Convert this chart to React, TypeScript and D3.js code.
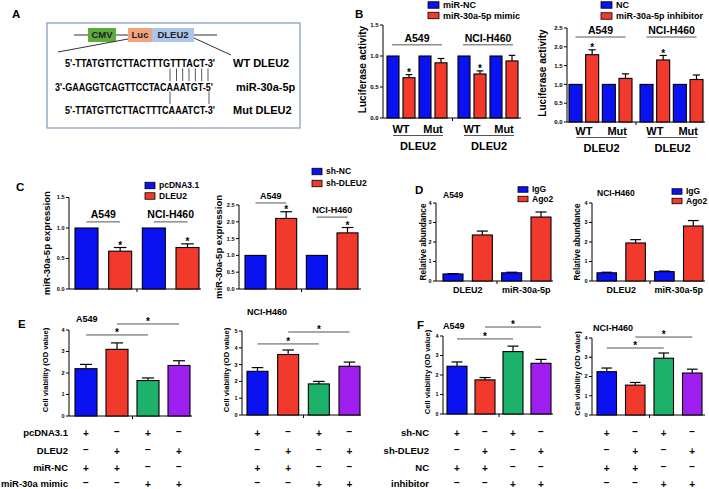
import React from "react";
import * as d3 from "d3";

const FONT = "Arial, 'Liberation Sans', Helvetica, sans-serif";
const BLUE = "#0b12f2";
const RED = "#f23a2c";
const GREEN = "#1db26a";
const PURPLE = "#9f1ff0";

// ---------------- data ----------------
const CELL_LINES = ["A549", "NCI-H460"];
const REPORTERS = ["WT", "Mut"];
const B_SLOTS = ["WT-ctrl", "WT-trt", "Mut-ctrl", "Mut-trt"];
const B_L_LEGEND = ["miR-NC", "miR-30a-5p mimic"];
const B_R_LEGEND = ["NC", "miR-30a-5p inhibitor"];
// order: A549 WT, A549 Mut, H460 WT, H460 Mut
const B_L_CTRL = [1, 1, 1, 1];
const B_L_TRT = [0.65, 0.89, 0.71, 0.92];
const B_L_TRT_ERR = [0.05, 0.07, 0.05, 0.09];
const B_L_STAR = [true, false, true, false];
const B_R_CTRL = [1, 1, 1, 1];
const B_R_TRT = [1.79, 1.16, 1.65, 1.13];
const B_R_TRT_ERR = [0.13, 0.12, 0.12, 0.12];
const B_R_STAR = [true, false, true, false];
const B_L_TICKS = [0, 0.5, 1.0, 1.5];
const B_R_TICKS = [0, 0.5, 1.0, 1.5, 2.0, 2.5];

const C_L_LEGEND = ["pcDNA3.1", "DLEU2"];
const C_R_LEGEND = ["sh-NC", "sh-DLEU2"];
const C_SLOTS = ["A549-ctrl", "A549-trt", "H460-ctrl", "H460-trt"];
const C_L_VALUES = [1, 0.62, 1, 0.68];
const C_L_ERR = [0, 0.06, 0, 0.06];
const C_R_VALUES = [1, 2.1, 1, 1.67];
const C_R_ERR = [0, 0.2, 0, 0.16];
const C_STAR = [false, true, false, true];
const C_L_TICKS = [0, 0.5, 1.0, 1.5];
const C_R_TICKS = [0, 0.5, 1.0, 1.5, 2.0, 2.5];

const D_LEGEND = ["IgG", "Ago2"];
const D_TARGETS = ["DLEU2", "miR-30a-5p"];
const D_SLOTS = ["DLEU2-IgG", "DLEU2-Ago2", "miR-IgG", "miR-Ago2"];
const D_L_VALUES = [0.36, 2.36, 0.42, 3.28];
const D_L_ERR = [0.02, 0.2, 0.03, 0.26];
const D_R_VALUES = [0.42, 1.95, 0.48, 2.82];
const D_R_ERR = [0.03, 0.17, 0.03, 0.28];
const D_TICKS = [0, 1, 2, 3, 4];

const GROUPS4 = ["g1", "g2", "g3", "g4"];
const E_ROWS = ["pcDNA3.1", "DLEU2", "miR-NC", "miR-30a mimic"];
const F_ROWS = ["sh-NC", "sh-DLEU2", "NC", "inhibitor"];
const SIGNS = [
  ["+", "−", "+", "−"],
  ["−", "+", "−", "+"],
  ["+", "+", "−", "−"],
  ["−", "−", "+", "+"],
];
const E_L_VALUES = [2.2, 3.1, 1.65, 2.35];
const E_L_ERR = [0.2, 0.3, 0.12, 0.22];
const E_R_VALUES = [2.6, 3.6, 1.85, 2.9];
const E_R_ERR = [0.22, 0.27, 0.15, 0.25];
const F_L_VALUES = [2.45, 1.75, 3.2, 2.6];
const F_L_ERR = [0.22, 0.12, 0.28, 0.2];
const F_R_VALUES = [2.25, 1.55, 2.95, 2.18];
const F_R_ERR = [0.19, 0.14, 0.27, 0.2];
const E_L_TICKS = [0, 1, 2, 3, 4];
const E_R_TICKS = [0, 1, 2, 3, 4, 5];
const F_TICKS = [0, 1, 2, 3, 4];
const FOUR_COLORS = [BLUE, RED, GREEN, PURPLE];
// significance brackets: [from bar, to bar, level (data units)]
const E_L_BRACKETS: [number, number, number][] = [[0, 2, 3.77], [1, 3, 4.28]];
const E_R_BRACKETS: [number, number, number][] = [[0, 2, 4.23], [1, 3, 4.94]];
const F_L_BRACKETS: [number, number, number][] = [[0, 2, 3.85], [1, 3, 4.46]];
const F_R_BRACKETS: [number, number, number][] = [[0, 2, 3.48], [1, 3, 4.05]];

// ---------------- helpers ----------------
type Bar = { x: number; w: number; v: number; e: number; fill: string; star?: boolean };
type Lin = d3.ScaleLinear<number, number>;

function bandFor(domain: string[], b0: number, b1: number, bw: number) {
  const n = domain.length;
  const step = (b1 - b0 - bw) / (n - 1);
  return d3
    .scaleBand<string>()
    .domain(domain)
    .range([b0, b1])
    .paddingInner(1 - bw / step)
    .paddingOuter(0);
}

function Bars({ bars, y }: { bars: Bar[]; y: Lin }) {
  return (
    <g>
      {bars.map((b, i) => {
        const top = y(b.v);
        const base = y(0);
        const et = y(b.v + b.e);
        const cx = b.x + b.w / 2;
        const cw = b.w * 0.55;
        return (
          <g key={i}>
            {b.e > 0 && <line x1={cx} x2={cx} y1={top} y2={et} stroke="#000" strokeWidth={1.2} />}
            {b.e > 0 && (
              <line x1={cx - cw / 2} x2={cx + cw / 2} y1={et} y2={et} stroke="#000" strokeWidth={1.2} />
            )}
            <rect x={b.x} y={top} width={b.w} height={base - top} fill={b.fill} stroke="#000" strokeWidth={1.1} />
            {b.star && (
              <text x={cx} y={et + 1.5} textAnchor="middle" fontSize={10}>
                *
              </text>
            )}
          </g>
        );
      })}
    </g>
  );
}

function Axis({
  x0, x1, y, ticks, fmt, fs, gap,
}: { x0: number; x1: number; y: Lin; ticks: number[]; fmt: (v: number) => string; fs: number; gap?: number }) {
  const y0 = y(0);
  return (
    <g>
      <line x1={x0} x2={x0} y1={y(ticks[ticks.length - 1])} y2={y0} stroke="#000" strokeWidth={1} />
      <line x1={x0} x2={x1} y1={y0} y2={y0} stroke="#000" strokeWidth={1} />
      {ticks.map((t) => (
        <g key={t}>
          <line x1={x0 - 3} x2={x0} y1={y(t)} y2={y(t)} stroke="#000" strokeWidth={1} />
          <text x={x0 - 4.5} y={y(t)} dy="0.35em" textAnchor="end" fontSize={fs}>
            {fmt(t)}
          </text>
        </g>
      ))}
      {gap != null && <line x1={gap} x2={gap} y1={y0} y2={y0 + 3} stroke="#000" strokeWidth={1} />}
    </g>
  );
}

function YLabel({ x, cy, text, fs }: { x: number; cy: number; text: string; fs: number }) {
  return (
    <text transform={`translate(${x},${cy}) rotate(-90)`} textAnchor="middle" dy="0.35em" fontSize={fs}>
      {text}
    </text>
  );
}

function Legend({
  x, ys, items, colors, w, h, fs,
}: { x: number; ys: number[]; items: string[]; colors: string[]; w: number; h: number; fs: number }) {
  return (
    <g>
      {items.map((it, i) => (
        <g key={it}>
          <rect x={x} y={ys[i] - h / 2} width={w} height={h} fill={colors[i]} stroke="#000" strokeWidth={0.8} />
          <text x={x + w + 4} y={ys[i]} dy="0.35em" fontSize={fs}>
            {it}
          </text>
        </g>
      ))}
    </g>
  );
}

function Brackets({ x, y, list }: { x: d3.ScaleBand<string>; y: Lin; list: [number, number, number][] }) {
  const c = (i: number) => (x(GROUPS4[i]) as number) + x.bandwidth() / 2;
  return (
    <g>
      {list.map(([a, b, lv], i) => {
        const yy = y(lv);
        return (
          <g key={i}>
            <line x1={c(a)} x2={c(b)} y1={yy} y2={yy} stroke="#555" strokeWidth={1} />
            <text x={(c(a) + c(b)) / 2} y={yy + 1} textAnchor="middle" fontSize={10}>
              *
            </text>
          </g>
        );
      })}
    </g>
  );
}

function SignTable({
  x, rows, labelX, ys,
}: { x: d3.ScaleBand<string>; rows?: string[]; labelX?: number; ys: number[] }) {
  return (
    <g>
      {SIGNS.map((row, r) => (
        <g key={r}>
          {rows && labelX != null && (
            <text x={labelX} y={ys[r]} dy="0.35em" textAnchor="end" fontSize={9.5}>
              {rows[r]}
            </text>
          )}
          {row.map((s, i) => (
            <text
              key={i}
              x={(x(GROUPS4[i]) as number) + x.bandwidth() / 2}
              y={ys[r]}
              dy={s === "+" ? "0.35em" : "0.2em"}
              textAnchor="middle"
              fontSize={10}
            >
              {s}
            </text>
          ))}
        </g>
      ))}
    </g>
  );
}

function fourBars(x: d3.ScaleBand<string>, slots: string[], vals: number[], errs: number[], colors: string[], stars?: boolean[]): Bar[] {
  return slots.map((s, i) => ({
    x: x(s) as number,
    w: x.bandwidth(),
    v: vals[i],
    e: errs[i],
    fill: colors[i],
    star: stars ? stars[i] : false,
  }));
}

function gapBetween(x: d3.ScaleBand<string>, slots: string[]) {
  return ((x(slots[1]) as number) + x.bandwidth() + (x(slots[2]) as number)) / 2;
}

// ---------------- panel B ----------------
function PanelB({
  ax0, ax1, y, b0, b1, gw, bw, ctrl, trt, err, stars, ticks, labelX, legend, legX, legY, titleLv, wtBase, lineY, dleuBase,
}: any) {
  const outer = bandFor(CELL_LINES, b0, b1, gw);
  const inner = bandFor(B_SLOTS, 0, gw, bw);
  const bars: Bar[] = [];
  CELL_LINES.forEach((cl, i) => {
    REPORTERS.forEach((rp, j) => {
      const k = i * 2 + j;
      bars.push({ x: (outer(cl) as number) + (inner(rp + "-ctrl") as number), w: inner.bandwidth(), v: ctrl[k], e: 0, fill: BLUE });
      bars.push({ x: (outer(cl) as number) + (inner(rp + "-trt") as number), w: inner.bandwidth(), v: trt[k], e: err[k], fill: RED, star: stars[k] });
    });
  });
  const gapX = ((outer(CELL_LINES[0]) as number) + gw + (outer(CELL_LINES[1]) as number)) / 2;
  return (
    <g>
      <Legend x={legX} ys={legY} items={legend} colors={[BLUE, RED]} w={11} h={6.5} fs={9} />
      <YLabel x={labelX} cy={(y(0) + y(ticks[ticks.length - 1])) / 2 - 2} text="Luciferase activity" fs={10} />
      <Axis x0={ax0} x1={ax1} y={y} ticks={ticks} fmt={d3.format(".1f")} fs={6} gap={gapX} />
      <Bars bars={bars} y={y} />
      {CELL_LINES.map((cl) => {
        const gx = (outer(cl) as number) + gw / 2;
        const ly = y(titleLv);
        return (
          <g key={cl}>
            <text x={gx} y={ly - 3} textAnchor="middle" fontSize={10.5}>{cl}</text>
            <line x1={gx - 25} x2={gx + 25} y1={ly} y2={ly} stroke="#555" strokeWidth={1} />
            {REPORTERS.map((rp) => {
              const cx = (outer(cl) as number) + ((inner(rp + "-ctrl") as number) + (inner(rp + "-trt") as number) + inner.bandwidth()) / 2;
              return (
                <text key={rp} x={cx} y={wtBase} textAnchor="middle" fontSize={11}>{rp}</text>
              );
            })}
            <line x1={gx - 24} x2={gx + 26} y1={lineY} y2={lineY} stroke="#555" strokeWidth={1} />
            <text x={gx + 1} y={dleuBase} textAnchor="middle" fontSize={11}>DLEU2</text>
          </g>
        );
      })}
    </g>
  );
}

// ---------------- panel C ----------------
function PanelC({ ax0, ax1, y, b0, b1, bw, vals, errs, ticks, labelX, legend, legX, legY, titleLv, titleFs }: any) {
  const x = bandFor(C_SLOTS, b0, b1, bw);
  const bars = fourBars(x, C_SLOTS, vals, errs, [BLUE, RED, BLUE, RED], C_STAR);
  const c = (s: string) => (x(s) as number) + x.bandwidth() / 2;
  return (
    <g>
      <Legend x={legX} ys={legY} items={legend} colors={[BLUE, RED]} w={10} h={6.5} fs={8.5} />
      <YLabel x={labelX} cy={(y(0) + y(ticks[ticks.length - 1])) / 2} text="miR-30a-5p expression" fs={9.5} />
      <Axis x0={ax0} x1={ax1} y={y} ticks={ticks} fmt={d3.format(".1f")} fs={5.5} gap={gapBetween(x, C_SLOTS)} />
      <Bars bars={bars} y={y} />
      {CELL_LINES.map((cl, i) => {
        const a = c(C_SLOTS[i * 2]);
        const b = c(C_SLOTS[i * 2 + 1]);
        const ly = y(titleLv[i]);
        return (
          <g key={cl}>
            <text x={(a + b) / 2} y={ly - 4} textAnchor="middle" fontSize={titleFs}>{cl}</text>
            <line x1={a} x2={b} y1={ly} y2={ly} stroke="#555" strokeWidth={1} />
          </g>
        );
      })}
    </g>
  );
}

// ---------------- panel D ----------------
function PanelD({ ax0, ax1, y, b0, b1, bw, vals, errs, labelX, title, titleX, titleY, legX, legY }: any) {
  const x = bandFor(D_SLOTS, b0, b1, bw);
  const bars = fourBars(x, D_SLOTS, vals, errs, [BLUE, RED, BLUE, RED]);
  const c = (s: string) => (x(s) as number) + x.bandwidth() / 2;
  return (
    <g>
      <text x={titleX} y={titleY} dy="0.35em" fontSize={8.5}>{title}</text>
      <Legend x={legX} ys={legY} items={D_LEGEND} colors={[BLUE, RED]} w={10} h={5.5} fs={8.5} />
      <YLabel x={labelX} cy={(y(0) + y(4)) / 2} text="Relative abundance" fs={8.2} />
      <Axis x0={ax0} x1={ax1} y={y} ticks={D_TICKS} fmt={d3.format("d")} fs={5.5} gap={gapBetween(x, D_SLOTS)} />
      <Bars bars={bars} y={y} />
      {D_TARGETS.map((t, i) => (
        <text key={t} x={(c(D_SLOTS[i * 2]) + c(D_SLOTS[i * 2 + 1])) / 2} y={y(0) + 12} textAnchor="middle" fontSize={9}>
          {t}
        </text>
      ))}
    </g>
  );
}

// ---------------- panels E / F ----------------
function PanelEF({ ax0, ax1, y, b0, b1, bw, vals, errs, ticks, labelX, title, titleX, titleY, brackets, rows, rowLabelX, rowYs }: any) {
  const x = bandFor(GROUPS4, b0, b1, bw);
  const bars = fourBars(x, GROUPS4, vals, errs, FOUR_COLORS);
  return (
    <g>
      <text x={titleX} y={titleY} dy="0.35em" fontSize={9}>{title}</text>
      <YLabel x={labelX} cy={(y(0) + y(ticks[ticks.length - 1])) / 2 - 3} text="Cell viability (OD value)" fs={7.6} />
      <Axis x0={ax0} x1={ax1} y={y} ticks={ticks} fmt={d3.format("d")} fs={5.5} gap={gapBetween(x, GROUPS4)} />
      <Bars bars={bars} y={y} />
      <Brackets x={x} y={y} list={brackets} />
      <SignTable x={x} rows={rows} labelX={rowLabelX} ys={rowYs} />
    </g>
  );
}

function PanelA() {
  const seqFs = 10;
  return (
    <g>
      <rect x={47} y={23} width={253} height={105} fill="none" stroke="#7f96bf" strokeWidth={1.2} />
      <line x1={74} x2={88} y1={35} y2={35} stroke="#333" strokeWidth={1} />
      <line x1={116} x2={128} y1={35} y2={35} stroke="#333" strokeWidth={1} />
      <line x1={194} x2={217} y1={35} y2={35} stroke="#333" strokeWidth={1} />
      <rect x={88} y={28} width={28} height={14} fill="#5dab3e" />
      <text x={102} y={35} dy="0.35em" textAnchor="middle" fontSize={9.5} fill="#222">CMV</text>
      <rect x={128} y={28} width={24} height={14} fill="#f2a57c" />
      <text x={140} y={35} dy="0.35em" textAnchor="middle" fontSize={9.5} fill="#222">Luc</text>
      <rect x={152} y={28} width={42} height={14} fill="#aac4ea" />
      <text x={173} y={35} dy="0.35em" textAnchor="middle" fontSize={9.5} fill="#222">DLEU2</text>
      <line x1={128} y1={39} x2={58} y2={52} stroke="#333" strokeWidth={1} />
      <line x1={194} y1={38} x2={231} y2={55} stroke="#333" strokeWidth={1} />
      <text x={65} y={63} dy="0.35em" fontSize={seqFs} textLength={150} lengthAdjust="spacingAndGlyphs">5'-TTATGTTCTTACTTTGTTTACT-3'</text>
      <text x={55} y={87} dy="0.35em" fontSize={seqFs} textLength={158} lengthAdjust="spacingAndGlyphs">3'-GAAGGTCAGTTCCTACAAATGT-5'</text>
      <text x={65} y={110} dy="0.35em" fontSize={seqFs} textLength={150} lengthAdjust="spacingAndGlyphs">5'-TTATGTTCTTACTTTCAAATCT-3'</text>
      {[170, 176.5, 182.7, 189, 195.3, 201.7, 208].map((lx) => (
        <line key={lx} x1={lx} x2={lx} y1={68.5} y2={81} stroke="#444" strokeWidth={0.9} />
      ))}
      {[170, 209].map((lx) => (
        <line key={lx} x1={lx} x2={lx} y1={91.5} y2={104} stroke="#444" strokeWidth={0.9} />
      ))}
      <text x={233} y={63} dy="0.35em" fontSize={11}>WT DLEU2</text>
      <text x={236} y={87} dy="0.35em" fontSize={11}>miR-30a-5p</text>
      <text x={233} y={110} dy="0.35em" fontSize={11}>Mut DLEU2</text>
    </g>
  );
}

export default function App() {
  const yBL = d3.scaleLinear().domain([0, 1.5]).range([118, 25]);
  const yBR = d3.scaleLinear().domain([0, 2.5]).range([122, 28]);
  const yCL = d3.scaleLinear().domain([0, 1.5]).range([289, 197.5]);
  const yCR = d3.scaleLinear().domain([0, 2.5]).range([289, 205]);
  const yD = d3.scaleLinear().domain([0, 4]).range([281, 203]);
  const yEL = d3.scaleLinear().domain([0, 4]).range([416, 330]);
  const yER = d3.scaleLinear().domain([0, 5]).range([415, 331]);
  const yFL = d3.scaleLinear().domain([0, 4]).range([414, 336]);
  const yFR = d3.scaleLinear().domain([0, 4]).range([415, 338]);
  const rowYs = [433, 451, 468, 484];

  return (
    <svg
      width={709}
      height={489}
      viewBox="0 0 709 489"
      style={{ position: "absolute", left: 0, top: 0, display: "block", background: "#fff" }}
      fontFamily={FONT}
      fontWeight="bold"
    >
      <rect x={0} y={0} width={709} height={489} fill="#fff" />
      {/* panel letters */}
      <text x={12} y={18} fontSize={11.5}>A</text>
      <text x={355} y={18} fontSize={11.5}>B</text>
      <text x={16} y={190.5} fontSize={11.5}>C</text>
      <text x={415} y={193.5} fontSize={11.5}>D</text>
      <text x={18} y={327.5} fontSize={11.5}>E</text>
      <text x={417} y={328.5} fontSize={11.5}>F</text>

      <PanelA />

      <PanelB
        ax0={383} ax1={521} y={yBL} b0={387} b1={518} gw={60} bw={12}
        ctrl={B_L_CTRL} trt={B_L_TRT} err={B_L_TRT_ERR} stars={B_L_STAR} ticks={B_L_TICKS}
        labelX={362} legend={B_L_LEGEND} legX={428} legY={[5, 15.5]} titleLv={1.18}
        wtBase={133} lineY={135.5} dleuBase={150}
      />
      <PanelB
        ax0={567} ax1={705} y={yBR} b0={569} b1={703} gw={63} bw={13}
        ctrl={B_R_CTRL} trt={B_R_TRT} err={B_R_TRT_ERR} stars={B_R_STAR} ticks={B_R_TICKS}
        labelX={542} legend={B_R_LEGEND} legX={601} legY={[5, 16]} titleLv={2.26}
        wtBase={135} lineY={137.5} dleuBase={152}
      />

      <PanelC
        ax0={69} ax1={201} y={yCL} b0={75} b1={199} bw={23} vals={C_L_VALUES} errs={C_L_ERR}
        ticks={C_L_TICKS} labelX={47} legend={C_L_LEGEND} legX={145} legY={[185.5, 196]}
        titleLv={[1.1, 1.1]} titleFs={10.5}
      />
      <PanelC
        ax0={239} ax1={361} y={yCR} b0={245} b1={358} bw={21} vals={C_R_VALUES} errs={C_R_ERR}
        ticks={C_R_TICKS} labelX={219} legend={C_R_LEGEND} legX={312} legY={[171.5, 183.5]}
        titleLv={[2.56, 2.14]} titleFs={9}
      />

      <PanelD
        ax0={436} ax1={553} y={yD} b0={443} b1={551} bw={20} vals={D_L_VALUES} errs={D_L_ERR}
        labelX={423} title="A549" titleX={443} titleY={195} legX={518} legY={[189.5, 199]}
      />
      <PanelD
        ax0={592} ax1={705} y={yD} b0={597} b1={703} bw={19.5} vals={D_R_VALUES} errs={D_R_ERR}
        labelX={577} title="NCI-H460" titleX={597} titleY={193} legX={672} legY={[191.5, 201]}
      />

      <PanelEF
        ax0={69} ax1={192} y={yEL} b0={75} b1={190} bw={22} vals={E_L_VALUES} errs={E_L_ERR}
        ticks={E_L_TICKS} labelX={45} title="A549" titleX={76} titleY={319} brackets={E_L_BRACKETS}
        rows={E_ROWS} rowLabelX={68} rowYs={rowYs}
      />
      <PanelEF
        ax0={242} ax1={361} y={yER} b0={247} b1={360} bw={21} vals={E_R_VALUES} errs={E_R_ERR}
        ticks={E_R_TICKS} labelX={226} title="NCI-H460" titleX={247} titleY={312} brackets={E_R_BRACKETS}
        rowYs={rowYs}
      />
      <PanelEF
        ax0={443} ax1={553} y={yFL} b0={447} b1={551} bw={20} vals={F_L_VALUES} errs={F_L_ERR}
        ticks={F_TICKS} labelX={427} title="A549" titleX={443} titleY={326} brackets={F_L_BRACKETS}
        rows={F_ROWS} rowLabelX={429} rowYs={rowYs}
      />
      <PanelEF
        ax0={592} ax1={705} y={yFR} b0={597} b1={702} bw={19.5} vals={F_R_VALUES} errs={F_R_ERR}
        ticks={F_TICKS} labelX={577} title="NCI-H460" titleX={593} titleY={328} brackets={F_R_BRACKETS}
        rowYs={rowYs}
      />
    </svg>
  );
}
